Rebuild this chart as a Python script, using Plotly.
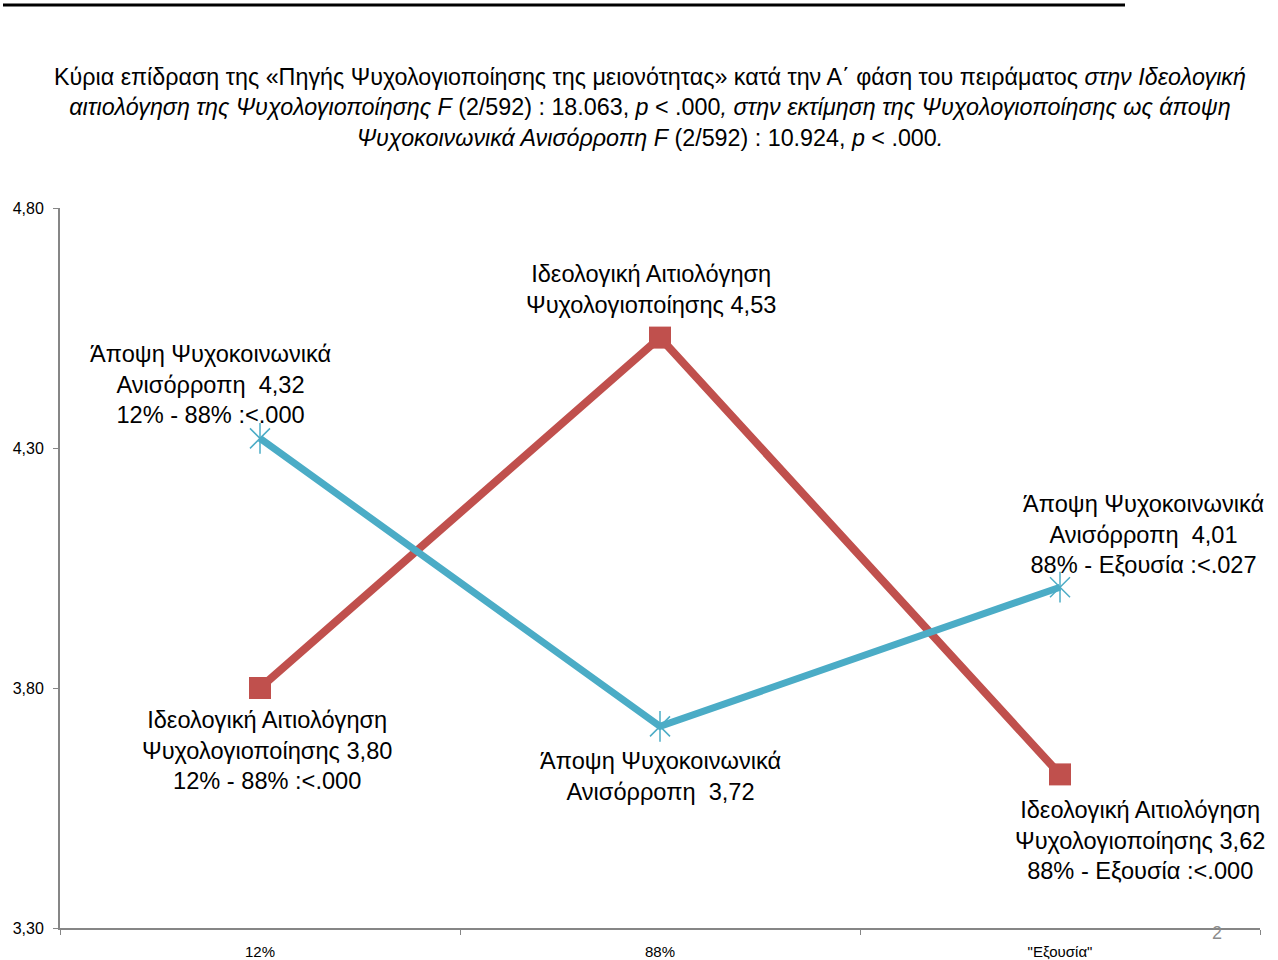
import plotly.graph_objects as go

categories = ["12%", "88%", "\"Εξουσία\""]
ideology_values = [3.80, 4.53, 3.62]
opinion_values = [4.32, 3.72, 4.01]
y_ticks = [3.30, 3.80, 4.30, 4.80]

ideology_labels = [
    "Ιδεολογική Αιτιολόγηση<br>Ψυχολογιοποίησης 3,80<br>12% - 88% :<.000",
    "Ιδεολογική Αιτιολόγηση<br>Ψυχολογιοποίησης 4,53",
    "Ιδεολογική Αιτιολόγηση<br>Ψυχολογιοποίησης 3,62<br>88% - Εξουσία :<.000",
]
opinion_labels = [
    "Άποψη Ψυχοκοινωνικά<br>Ανισόρροπη  4,32<br>12% - 88% :<.000",
    "Άποψη Ψυχοκοινωνικά<br>Ανισόρροπη  3,72",
    "Άποψη Ψυχοκοινωνικά<br>Ανισόρροπη  4,01<br>88% - Εξουσία :<.027",
]
ideology_shift = [(7, -62), (-9, 48), (80, -66)]
opinion_shift = [(-50, 54), (0, -50), (83, 53)]

title_text = (
    "Κύρια επίδραση της «Πηγής Ψυχολογιοποίησης της μειονότητας» κατά την Α΄ φάση του πειράματος <i>στην Ιδεολογική</i><br>"
    "<i>αιτιολόγηση της Ψυχολογιοποίησης F</i> (2/592) : 18.063, <i>p</i> < .000<i>, στην εκτίμηση της Ψυχολογιοποίησης ως άποψη</i><br>"
    "<i>Ψυχοκοινωνικά Ανισόρροπη F</i> (2/592) : 10.924, <i>p</i> < .000<i>.</i>"
)

RED = "#C0504D"
BLUE = "#4BACC6"
FONT = "Liberation Sans"

fig = go.Figure()
fig.add_trace(go.Scatter(
    x=categories, y=ideology_values, mode="lines+markers",
    line=dict(color=RED, width=8),
    marker=dict(symbol="square", size=22, color=RED),
    showlegend=False, hoverinfo="skip"))
fig.add_trace(go.Scatter(
    x=categories, y=opinion_values, mode="lines",
    line=dict(color=BLUE, width=7),
    showlegend=False, hoverinfo="skip"))
fig.add_trace(go.Scatter(
    x=categories, y=opinion_values, mode="markers",
    marker=dict(symbol="x-thin-open", size=20, color=BLUE, line=dict(color=BLUE, width=1.5)),
    showlegend=False, hoverinfo="skip"))
fig.add_trace(go.Scatter(
    x=categories, y=opinion_values, mode="markers",
    marker=dict(symbol="line-ns-open", size=22, color=BLUE, line=dict(color=BLUE, width=1.5)),
    showlegend=False, hoverinfo="skip"))

for cat, val, txt, (dx, dy) in zip(categories, ideology_values, ideology_labels, ideology_shift):
    fig.add_annotation(x=cat, y=val, text=txt, showarrow=False, xshift=dx, yshift=dy,
                       xanchor="center", yanchor="middle",
                       font=dict(family=FONT, size=23.6, color="#000000"))
for cat, val, txt, (dx, dy) in zip(categories, opinion_values, opinion_labels, opinion_shift):
    fig.add_annotation(x=cat, y=val, text=txt, showarrow=False, xshift=dx, yshift=dy,
                       xanchor="center", yanchor="middle",
                       font=dict(family=FONT, size=23.6, color="#000000"))

fig.add_annotation(x=0.4917, y=1.14, xref="paper", yref="paper", text=title_text,
                   showarrow=False, xanchor="center", yanchor="middle", align="center",
                   font=dict(family=FONT, size=23.3, color="#000000"))
fig.add_annotation(x=0.964, y=-0.007, xref="paper", yref="paper", text="2",
                   showarrow=False, xanchor="center", yanchor="middle",
                   font=dict(family=FONT, size=18, color="#8C8C8C"))

fig.add_shape(type="line", xref="paper", yref="paper", x0=-0.0475, x1=0.8875,
              y0=1.2819, y1=1.2819, line=dict(color="#000000", width=3))

fig.update_layout(
    width=1278, height=960,
    margin=dict(l=60, r=18, t=208, b=32),
    paper_bgcolor="white", plot_bgcolor="white",
    separators=",.",
    font=dict(family=FONT, color="#000000"),
)
fig.update_xaxes(
    type="category", range=[-0.5, 2.5], tickson="boundaries", ticks="outside", ticklen=5,
    tickcolor="#868686", showline=True, linecolor="#868686", linewidth=2,
    showgrid=False, zeroline=False, tickfont=dict(family=FONT, size=15),
    ticklabelstandoff=9, automargin=False,
)
fig.update_yaxes(
    range=[3.30, 4.80], tickvals=y_ticks, tickformat=".2f", ticks="outside", ticklen=5,
    tickcolor="#868686", showline=True, linecolor="#868686", linewidth=2,
    showgrid=False, zeroline=False, tickfont=dict(family=FONT, size=16),
    ticklabelstandoff=6, automargin=False,
)

fig.write_html("out.html", config={"displayModeBar": False},
               post_script="document.body.style.margin='0';")
